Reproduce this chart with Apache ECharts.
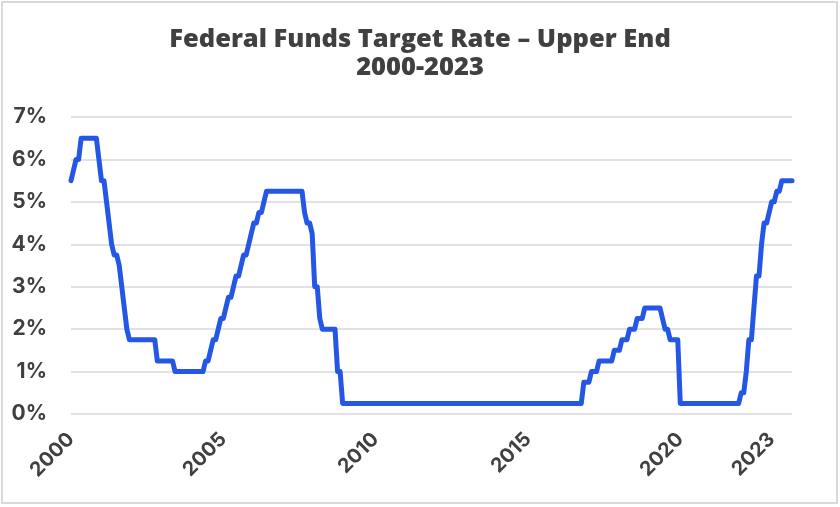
<!DOCTYPE html>
<html>
<head>
<meta charset="utf-8">
<script src="https://cdn.jsdelivr.net/npm/echarts@6/dist/echarts.min.js"></script>
<style>
  html, body { margin: 0; padding: 0; background: #ffffff; }
  #chart { width: 840px; height: 507px; }
</style>
</head>
<body>
<div id="chart"></div>
<script>
// Monthly upper-end target rate (%), Jan 2000 .. Sep 2023
const rates2000 = [5.5, 5.75, 6.0, 6.0, 6.5, 6.5, 6.5, 6.5, 6.5, 6.5, 6.5, 6.0];
const rates2001 = [5.5, 5.5, 5.0, 4.5, 4.0, 3.75, 3.75, 3.5, 3.0, 2.5, 2.0, 1.75];
const rates2002 = [1.75, 1.75, 1.75, 1.75, 1.75, 1.75, 1.75, 1.75, 1.75, 1.75, 1.25, 1.25];
const rates2003 = [1.25, 1.25, 1.25, 1.25, 1.25, 1.0, 1.0, 1.0, 1.0, 1.0, 1.0, 1.0];
const rates2004 = [1.0, 1.0, 1.0, 1.0, 1.0, 1.25, 1.25, 1.5, 1.75, 1.75, 2.0, 2.25];
const rates2005 = [2.25, 2.5, 2.75, 2.75, 3.0, 3.25, 3.25, 3.5, 3.75, 3.75, 4.0, 4.25];
const rates2006 = [4.5, 4.5, 4.75, 4.75, 5.0, 5.25, 5.25, 5.25, 5.25, 5.25, 5.25, 5.25];
const rates2007 = [5.25, 5.25, 5.25, 5.25, 5.25, 5.25, 5.25, 5.25, 4.75, 4.5, 4.5, 4.25];
const rates2008 = [3.0, 3.0, 2.25, 2.0, 2.0, 2.0, 2.0, 2.0, 2.0, 1.0, 1.0, 0.25];
const rates2009 = [0.25, 0.25, 0.25, 0.25, 0.25, 0.25, 0.25, 0.25, 0.25, 0.25, 0.25, 0.25];
const rates2010 = [0.25, 0.25, 0.25, 0.25, 0.25, 0.25, 0.25, 0.25, 0.25, 0.25, 0.25, 0.25];
const rates2011 = [0.25, 0.25, 0.25, 0.25, 0.25, 0.25, 0.25, 0.25, 0.25, 0.25, 0.25, 0.25];
const rates2012 = [0.25, 0.25, 0.25, 0.25, 0.25, 0.25, 0.25, 0.25, 0.25, 0.25, 0.25, 0.25];
const rates2013 = [0.25, 0.25, 0.25, 0.25, 0.25, 0.25, 0.25, 0.25, 0.25, 0.25, 0.25, 0.25];
const rates2014 = [0.25, 0.25, 0.25, 0.25, 0.25, 0.25, 0.25, 0.25, 0.25, 0.25, 0.25, 0.25];
const rates2015 = [0.25, 0.25, 0.25, 0.25, 0.25, 0.25, 0.25, 0.25, 0.25, 0.25, 0.25, 0.25];
const rates2016 = [0.25, 0.25, 0.25, 0.25, 0.25, 0.25, 0.25, 0.25, 0.25, 0.25, 0.75, 0.75];
const rates2017 = [0.75, 1.0, 1.0, 1.0, 1.25, 1.25, 1.25, 1.25, 1.25, 1.25, 1.5, 1.5];
const rates2018 = [1.5, 1.75, 1.75, 1.75, 2.0, 2.0, 2.0, 2.25, 2.25, 2.25, 2.5, 2.5];
const rates2019 = [2.5, 2.5, 2.5, 2.5, 2.5, 2.25, 2.0, 2.0, 1.75, 1.75, 1.75, 1.75];
const rates2020 = [0.25, 0.25, 0.25, 0.25, 0.25, 0.25, 0.25, 0.25, 0.25, 0.25, 0.25, 0.25];
const rates2021 = [0.25, 0.25, 0.25, 0.25, 0.25, 0.25, 0.25, 0.25, 0.25, 0.25, 0.25, 0.25];
const rates2022 = [0.5, 0.5, 1.0, 1.75, 1.75, 2.5, 3.25, 3.25, 4.0, 4.5, 4.5, 4.75];
const rates2023 = [5.0, 5.0, 5.25, 5.25, 5.5, 5.5, 5.5, 5.5, 5.5];

const yearlyRates = [rates2000, rates2001, rates2002, rates2003, rates2004, rates2005,
  rates2006, rates2007, rates2008, rates2009, rates2010, rates2011, rates2012,
  rates2013, rates2014, rates2015, rates2016, rates2017, rates2018, rates2019,
  rates2020, rates2021, rates2022, rates2023];

const tickYears = ['2000', '2005', '2010', '2015', '2020', '2023'];
const titleText = 'Federal Funds Target Rate \u2013 Upper End\n2000-2023';

const months = [];
const rates = [];
yearlyRates.forEach(function (arr, yi) {
  const y = 2000 + yi;
  arr.forEach(function (v, mi) {
    months.push(y + '-' + String(mi + 1).padStart(2, '0'));
    rates.push(v);
  });
});

const textColor = '#404040';
const fontFam = 'Inter, "Noto Sans", sans-serif';

const chart = echarts.init(document.getElementById('chart'), null, { renderer: 'canvas' });
chart.setOption({
  animation: false,
  backgroundColor: '#ffffff',
  title: {
    text: titleText,
    left: 'center',
    top: 26,
    padding: 0,
    textStyle: {
      color: textColor,
      fontFamily: '"Open Sans", Inter, sans-serif',
      fontWeight: 800,
      fontSize: 25.5,
      lineHeight: 28
    }
  },
  graphic: [{
    type: 'rect',
    shape: { x: 2, y: 2, width: 835, height: 501 },
    style: { fill: 'none', stroke: '#d9d9d9', lineWidth: 2 },
    silent: true
  }],
  grid: { left: 71, right: 48, top: 117, bottom: 93, containLabel: false },
  xAxis: {
    type: 'category',
    data: months,
    boundaryGap: false,
    axisLine: { show: false },
    axisTick: { show: false },
    splitLine: { show: false },
    axisLabel: {
      interval: function (idx, val) {
        return val.slice(5) === '01' && tickYears.indexOf(val.slice(0, 4)) >= 0;
      },
      formatter: function (val) { return val.slice(0, 4); },
      rotate: 45,
      margin: 22,
      color: textColor,
      fontFamily: fontFam,
      fontWeight: 'bold',
      fontSize: 20
    }
  },
  yAxis: {
    type: 'value',
    min: 0,
    max: 7,
    interval: 1,
    axisLine: { show: false },
    axisTick: { show: false },
    splitLine: { lineStyle: { color: '#d9d9d9', width: 1.5 } },
    axisLabel: {
      formatter: '{value}%',
      margin: 24,
      color: textColor,
      fontFamily: fontFam,
      fontWeight: 'bold',
      fontSize: 21
    }
  },
  series: [{
    type: 'line',
    data: rates,
    showSymbol: false,
    symbol: 'none',
    lineStyle: { color: '#2457e6', width: 5, join: 'round', cap: 'round' },
    itemStyle: { color: '#2457e6' }
  }]
});
</script>
</body>
</html>
